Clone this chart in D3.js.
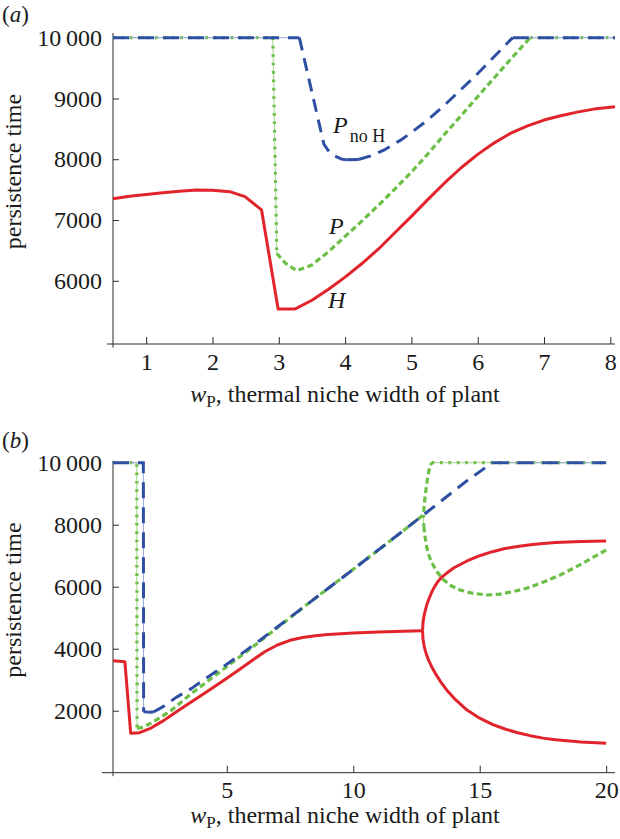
<!DOCTYPE html>
<html><head><meta charset="utf-8">
<script src="https://cdn.jsdelivr.net/npm/d3@7"></script>
<style>
body{margin:0;background:#fff}
svg{display:block}
text{font-family:"Liberation Serif","Times New Roman",serif;fill:#1a1a1a}
</style>
</head><body>
<svg id="c" width="620" height="839"></svg>
<script>
// ---------------- DATA ----------------
// Panel (a): x = w_P, y = persistence time
const aH = [[0.5,7350],[0.75,7390],[1.0,7420],[1.25,7450],[1.5,7475],[1.76,7495],[2.0,7490],[2.26,7467],[2.49,7385],[2.74,7166],[2.99,5535],[3.24,5535],[3.5,5680],[3.75,5860],[4.0,6060],[4.25,6280],[4.5,6520],[4.75,6790],[5.0,7060],[5.25,7340],[5.5,7610],[5.75,7860],[6.0,8080],[6.25,8270],[6.5,8430],[6.75,8550],[7.0,8645],[7.25,8715],[7.5,8775],[7.75,8825],[8.07,8865]];
const aP = [[0.5,10000],[2.91,10000],[2.97,6450],[3.1,6290],[3.27,6165],[3.5,6260],[3.75,6480],[4.0,6730],[4.25,6980],[4.5,7240],[4.75,7510],[5.0,7790],[5.25,8090],[5.5,8410],[5.75,8720],[6.0,9030],[6.25,9340],[6.5,9650],[6.79,10000],[8.07,10000]];
const aPnoH = [[0.5,10000],[3.31,10000],[3.68,8250],[3.76,8120],[3.85,8050],[3.94,8005],[4.02,7990],[4.2,7995],[4.4,8060],[4.6,8160],[4.83,8310],[5.0,8440],[5.25,8650],[5.5,8890],[5.75,9150],[6.0,9410],[6.25,9690],[6.49,9960],[6.53,10000],[8.07,10000]];
const aXTicks = [1,2,3,4,5,6,7,8];
const aYTicks = [6000,7000,8000,9000,10000];
const aYTickLabels = ["6000","7000","8000","9000","10\u2009000"];

// Panel (b)
const bH = [[0.5,3610],[0.97,3580],[1.2,1270],[1.55,1290],[2.0,1440],[2.5,1680],[2.82,1861],[3.5,2230],[4.0,2500],[4.8,2935],[5.5,3330],[6.0,3620],[6.5,3900],[7.0,4120],[7.5,4270],[8.0,4360],[8.5,4420],[9.0,4455],[10,4505],[11,4535],[12,4562],[12.74,4581]];
const bHUpper = [[12.74,4581],[12.76,4860],[12.8,5060],[12.85,5240],[12.9,5400],[13.0,5620],[13.1,5820],[13.2,5980],[13.35,6170],[13.5,6310],[13.7,6440],[14.0,6620],[14.5,6830],[15.0,7000],[15.5,7130],[16.0,7230],[16.5,7300],[17.0,7355],[17.5,7395],[18.0,7425],[19.0,7460],[20.0,7474]];
const bHLower = [[12.74,4581],[12.76,4300],[12.8,4100],[12.85,3930],[12.9,3800],[13.0,3590],[13.1,3420],[13.2,3270],[13.3,3130],[13.45,2940],[13.7,2660],[14.0,2390],[14.5,2020],[15.0,1760],[15.5,1560],[16.0,1410],[16.5,1290],[17.0,1195],[17.5,1115],[18.0,1060],[19.0,990],[20.0,948]];
const bP = [[0.5,10000],[1.44,10000],[1.45,1430],[1.7,1470],[2.0,1600],[2.5,1850],[2.82,2020],[3.61,2560],[4.0,2800],[5.0,3420],[6.0,4040],[7.0,4680],[8.0,5320],[9.0,5940],[10,6560],[11,7190],[12,7820],[12.77,8313],[12.84,8900],[12.9,9300],[12.97,9650],[13.03,9880],[13.1,10000],[20,10000]];
const bPLower = [[12.77,8313],[12.79,7950],[12.84,7600],[12.9,7300],[12.97,7060],[13.06,6860],[13.17,6680],[13.35,6440],[13.56,6230],[13.85,6040],[14.22,5894],[14.7,5790],[15.28,5732],[15.8,5760],[16.3,5840],[16.86,5948],[17.5,6140],[18.18,6377],[19.0,6720],[20,7184]];
const bPnoH = [[0.5,10000],[1.70,10000],[1.71,1970],[1.9,1950],[2.1,1960],[2.5,2140],[3.0,2430],[3.61,2720],[4.0,2950],[5.0,3500],[6.0,4080],[7.0,4700],[8.0,5320],[9.0,5940],[10,6560],[11,7190],[12,7820],[12.77,8313],[13.5,8780],[14.5,9420],[15.5,10000],[20,10000]];
const bXTicks = [5,10,15,20];
const bYTicks = [2000,4000,6000,8000,10000];
const bYTickLabels = ["2000","4000","6000","8000","10\u2009000"];

// ---------------- STYLE ----------------
const COL = {H:"#e1232b", P:"#6bbf46", PnoH:"#2e4fa3", Pthin:"#9fd68b", PnoHthin:"#9aa6d6", axis:"#2a2a2a"};
const FS = 24;
const svg = d3.select("#c");

function runs(pts, x, y){
  const out=[]; let cur=null;
  for(let i=0;i<pts.length-1;i++){
    const dx=Math.abs(x(pts[i+1][0])-x(pts[i][0])), dy=Math.abs(y(pts[i+1][1])-y(pts[i][1]));
    const axial = dy<0.5 || dy>20*dx;
    if(!cur || cur.axial!==axial){ cur={axial, pts:[pts[i]]}; out.push(cur); }
    cur.pts.push(pts[i+1]);
  }
  return out;
}

function drawPanel(cfg){
  const g = svg.append("g");
  const x = d3.scaleLinear().domain(cfg.xDomain).range([113,615]);
  const y = d3.scaleLinear().domain(cfg.yDomain).range([cfg.yBottom, cfg.yTop]);
  const line = d3.line().x(d=>x(d[0])).y(d=>y(d[1]));

  g.append("line").attr("x1",cfg.xAxisStart).attr("x2",615).attr("y1",y(cfg.yDomain[0])).attr("y2",y(cfg.yDomain[0]))
    .attr("stroke",COL.axis).attr("stroke-width",1);
  g.append("line").attr("x1",113).attr("x2",113).attr("y1",cfg.yAxisTop).attr("y2",y(cfg.yDomain[0])+3.5)
    .attr("stroke",COL.axis).attr("stroke-width",1);

  const xAx = g.append("g").attr("transform",`translate(0,${y(cfg.yDomain[0])})`);
  xAx.call(d3.axisBottom(x).tickValues(cfg.xMinor).tickSize(-3.5).tickSizeOuter(0).tickFormat(""));
  xAx.call(d3.axisBottom(x).tickValues(cfg.xTicks).tickSize(-7).tickSizeOuter(0).tickPadding(cfg.xPad));
  xAx.selectAll(".domain").remove();
  const yAx = g.append("g").attr("transform","translate(113,0)");
  yAx.call(d3.axisLeft(y).tickValues(cfg.yMinor).tickSize(-3.5).tickSizeOuter(0).tickFormat(""));
  yAx.call(d3.axisLeft(y).tickValues(cfg.yTicks).tickSize(-6).tickSizeOuter(0).tickPadding(11)
     .tickFormat((d,i)=>cfg.yTickLabels[i]));
  yAx.selectAll(".domain").remove();
  g.selectAll(".tick line").attr("stroke",COL.axis);
  g.selectAll(".tick text").style("font-family",'"Liberation Serif",serif').style("font-size",FS+"px").attr("fill","#1a1a1a");

  function dashed(pts, col, thin, slopeDash, axialDash, w){
    runs(pts,x,y).forEach(r=>{
      if(r.axial){
        g.append("path").attr("d",line(r.pts)).attr("fill","none").attr("stroke",thin).attr("stroke-width",1);
        g.append("path").attr("d",line(r.pts)).attr("fill","none").attr("stroke",col).attr("stroke-width",w)
          .attr("stroke-dasharray",axialDash);
      } else {
        g.append("path").attr("d",line(r.pts)).attr("fill","none").attr("stroke",col).attr("stroke-width",w)
          .attr("stroke-dasharray",slopeDash).attr("stroke-linejoin","round");
      }
    });
  }
  cfg.P.forEach(s=>dashed(s, COL.P, COL.Pthin, "6,3.5", "2.6,5.8", 3.2));
  cfg.PnoH.forEach(s=>dashed(s, COL.PnoH, COL.PnoHthin, "13,8", "16,9", 3));
  cfg.H.forEach(s=>g.append("path").attr("d",line(s)).attr("fill","none").attr("stroke",COL.H)
     .attr("stroke-width",3).attr("stroke-linejoin","round"));

  const pl = g.append("text").attr("x",2).attr("y",cfg.labelY).style("font-size","23px");
  pl.append("tspan").text("(");
  pl.append("tspan").style("font-style","italic").text(cfg.label);
  pl.append("tspan").text(")");

  g.append("text").attr("transform",`translate(20.5,${cfg.yTitleY}) rotate(-90)`).attr("text-anchor","middle")
    .style("font-size",FS+"px").text("persistence time");
  const xt = g.append("text").attr("x",345).attr("y",cfg.xTitleY).attr("text-anchor","middle").style("font-size",FS+"px");
  xt.append("tspan").style("font-style","italic").text("w");
  xt.append("tspan").attr("dy",5).style("font-size","17px").text("P");
  xt.append("tspan").attr("dy",-5).text(", thermal niche width of plant");
  return {g,x,y};
}

const A = drawPanel({
  xDomain:[0.5,8.07], yDomain:[4960,10000], yBottom:344, yTop:37.7,
  xAxisStart:107, yAxisTop:33, xPad:9,
  xTicks:aXTicks, xMinor:d3.range(0.6,8.05,0.2).filter(v=>Math.abs(v-Math.round(v))>0.01),
  yTicks:aYTicks, yTickLabels:aYTickLabels, yMinor:d3.range(5000,10001,200).filter(v=>v%1000!==0),
  H:[aH], P:[aP], PnoH:[aPnoH], label:"a", labelY:22, yTitleY:171.5, xTitleY:402
});
const B = drawPanel({
  xDomain:[0.5,20.35], yDomain:[0,10000], yBottom:772.7, yTop:462.7,
  xAxisStart:102, yAxisTop:460.7, xPad:8,
  xTicks:bXTicks, xMinor:d3.range(1,20.5,1).filter(v=>v%5!==0),
  yTicks:bYTicks, yTickLabels:bYTickLabels, yMinor:d3.range(500,10001,500).filter(v=>v%2000!==0),
  H:[bH,bHUpper,bHLower], P:[bP,bPLower], PnoH:[bPnoH], label:"b", labelY:448, yTitleY:600, xTitleY:823
});

const lab1 = A.g.append("text").attr("x",333).attr("y",133).style("font-size",FS+"px");
lab1.append("tspan").style("font-style","italic").text("P");
lab1.append("tspan").attr("dx",2).attr("dy",8.5).style("font-size","18px").text("no H");
A.g.append("text").attr("x",329).attr("y",234).style("font-size",FS+"px").style("font-style","italic").text("P");
A.g.append("text").attr("x",328).attr("y",308).style("font-size",FS+"px").style("font-style","italic").text("H");
</script>
</body></html>
